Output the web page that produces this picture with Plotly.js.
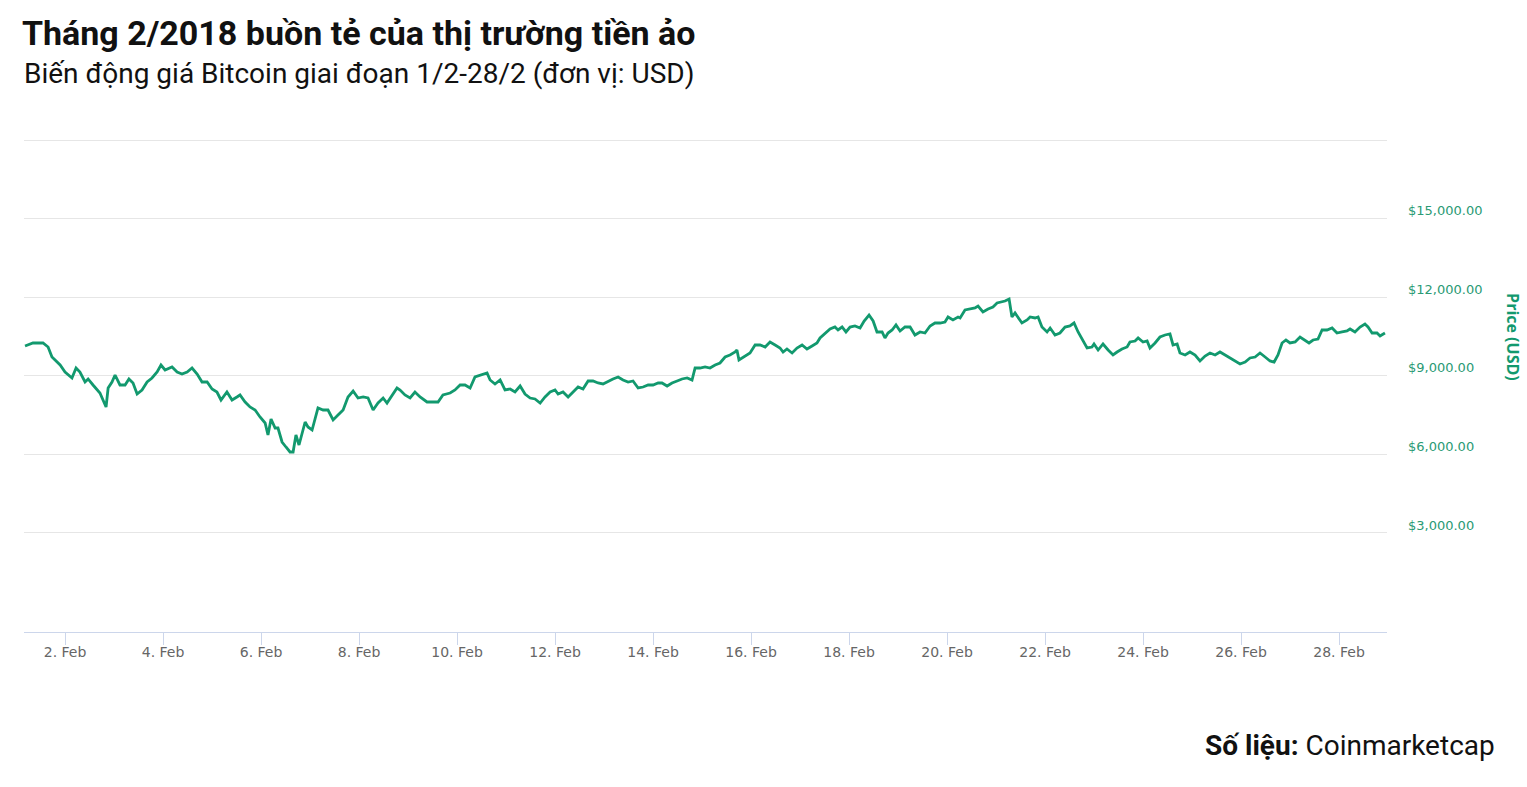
<!DOCTYPE html>
<html>
<head>
<meta charset="utf-8">
<script src="https://cdn.plot.ly/plotly-3.0.1.min.js"></script>
<style>
  html, body { margin: 0; padding: 0; background: #fff; }
  #chart { width: 1527px; height: 787px; }
</style>
</head>
<body>
<div id="chart"></div>
<script>
// hours since 1 Feb 2018 00:00
var hours = [
  4.4, 8.3, 13.2, 15.7, 17.6, 19.1, 21.6, 24.0, 27.4, 29.4,
  31.3, 33.8, 35.3, 37.7, 41.1, 44.1, 45.1, 47.0, 48.5, 50.9,
  53.4, 55.3, 57.3, 59.3, 61.7, 64.2, 66.6, 69.1, 71.0, 73.0,
  76.4, 78.9, 81.3, 83.8, 86.2, 88.7, 91.1, 93.6, 96.0, 98.4,
  100.4, 103.3, 105.8, 108.2, 109.7, 112.2, 114.6, 117.1, 119.5, 122.0,
  123.4, 124.9, 126.9, 128.3, 130.3, 132.2, 134.2, 135.7, 137.1, 138.6,
  141.6, 143.0, 145.0, 147.9, 150.4, 152.8, 155.3, 157.7, 160.2, 162.6,
  165.1, 167.5, 170.0, 172.4, 174.9, 177.3, 179.8, 181.7, 184.2, 186.6,
  188.1, 190.5, 193.0, 195.4, 197.9, 201.3, 204.2, 206.7, 209.1, 212.6,
  215.0, 217.5, 219.9, 222.4, 224.8, 228.2, 230.7,
  232.2, 234.6, 237.1, 239.5, 242.0, 244.4, 246.9, 249.3, 251.8, 254.2,
  256.7, 259.1, 261.6, 264.0, 265.5, 267.9, 270.4, 272.8, 275.3, 277.7,
  280.2, 282.6, 285.1, 287.5, 290.0, 292.4, 294.9, 297.3, 299.8, 302.2,
  304.7, 307.1, 309.6, 312.0, 314.5, 316.4, 318.9, 321.3, 323.8, 326.2,
  328.7, 331.1, 332.6, 335.0, 337.5, 339.9, 342.4,
  344.8, 347.3, 349.7, 352.2, 353.1, 354.1, 357.1, 359.5, 362.0, 364.4,
  366.9, 369.3, 371.8, 374.2, 375.7, 377.6, 380.1, 382.5, 385.0, 387.4,
  389.9, 392.3, 393.8, 396.3, 398.7, 401.1, 402.6, 404.6, 406.5, 408.5,
  410.9, 413.4, 415.4, 417.8, 419.8, 421.7, 424.2, 425.6, 427.1, 429.1,
  431.0, 433.0, 435.4, 437.9, 440.3, 442.8, 445.2, 447.7, 450.1, 452.6,
  455.0, 456.5, 458.9, 461.4,
  462.4, 464.8, 467.3, 469.7, 471.2, 473.6, 476.1, 478.5, 480.5, 482.9,
  484.4, 486.4, 487.8, 489.3, 490.8, 492.7, 495.2, 496.7, 499.1, 500.6,
  502.5, 505.0, 506.5, 508.9, 511.3, 513.8, 516.2, 518.2, 520.2, 522.6,
  524.6, 527.0, 528.0, 530.0, 532.4, 534.9, 537.3, 539.3, 541.7, 544.2,
  545.6, 548.1, 549.6, 552.0, 554.0, 555.4, 557.9, 560.3, 562.8, 565.2,
  566.7, 568.7,
  570.1, 572.6, 575.0, 577.5, 579.9, 582.4, 584.8, 587.3, 589.7, 592.2,
  594.6, 597.1, 599.5, 602.0, 604.4, 606.9, 609.3, 611.8, 614.2, 616.2,
  618.1, 620.1, 622.0, 624.0, 626.5, 628.9, 631.4, 633.3, 635.3, 637.7,
  639.7, 642.1, 644.6, 647.0, 649.5, 651.9, 653.4, 655.8, 658.3, 660.7,
  662.2, 664.2, 666.6, 668.1, 670.5
];

// BTC price, USD
var price = [
  10137, 10252, 10252, 10099, 9717, 9603, 9412, 9145, 8916, 9297,
  9145, 8763, 8878, 8649, 8343, 7809, 8534, 8763, 9030, 8649,
  8649, 8878, 8725, 8305, 8458, 8763, 8916, 9145, 9412, 9221,
  9336, 9145, 9068, 9145, 9297, 9068, 8763, 8763, 8496, 8381,
  8076, 8381, 8076, 8191, 8267, 8000, 7809, 7694, 7427, 7198,
  6740, 7351, 7007, 7007, 6473, 6282, 6091, 6091, 6740, 6358,
  7236, 7045, 6931, 7771, 7694, 7694, 7313, 7503, 7694, 8191,
  8420, 8152, 8191, 8152, 7694, 7961, 8152, 7961, 8267, 8534,
  8458, 8267, 8152, 8381, 8191, 8000, 8000, 8000, 8267, 8343,
  8458, 8649, 8649, 8534, 8954, 9030, 9107,
  8839, 8687, 8839, 8458, 8496, 8381, 8610, 8305, 8152, 8114,
  7961, 8191, 8381, 8458, 8305, 8381, 8191, 8381, 8572, 8496,
  8801, 8801, 8725, 8687, 8801, 8878, 8954, 8839, 8763, 8801,
  8534, 8572, 8649, 8649, 8725, 8725, 8610, 8725, 8801, 8878,
  8916, 8839, 9297, 9297, 9336, 9297, 9412,
  9488, 9717, 9794, 9908, 9984, 9603, 9755, 9870, 10175, 10175,
  10099, 10290, 10175, 10061, 9908, 10023, 9870, 10061, 10175, 10023,
  10137, 10252, 10443, 10633, 10786, 10862, 10748, 10862, 10672, 10862,
  10901, 10824, 11091, 11320, 11091, 10672, 10672, 10443, 10633, 10748,
  10939, 10710, 10862, 10862, 10557, 10672, 10633, 10901, 11015, 11015,
  11053, 11244, 11130, 11244,
  11206, 11511, 11549, 11588, 11664, 11435, 11549, 11626, 11778, 11817,
  11855, 11931, 11244, 11397, 11244, 11015, 11130, 11244, 11206, 11244,
  10862, 10672, 10824, 10557, 10633, 10862, 10901, 11015, 10672, 10366,
  10061, 10099, 10214, 9984, 10214, 9984, 9794, 9908, 10023, 10099,
  10290, 10328, 10443, 10290, 10328, 10061, 10252, 10481, 10557, 10595,
  10175, 10214,
  9870, 9794, 9908, 9794, 9565, 9755, 9870, 9794, 9908, 9794,
  9679, 9565, 9450, 9526, 9679, 9717, 9870, 9717, 9565, 9526,
  9794, 10252, 10366, 10252, 10290, 10481, 10366, 10252, 10366, 10404,
  10748, 10748, 10824, 10633, 10672, 10710, 10786, 10672, 10862, 10977,
  10862, 10633, 10633, 10519, 10633
];

var yTicks = [3000, 6000, 9000, 12000, 15000, 18000];
var yTickLabels = ['$3,000.00', '$6,000.00', '$9,000.00', '$12,000.00', '$15,000.00', ''];

var t0 = Date.UTC(2018, 1, 1);
var times = hours.map(function(h) { return t0 + h * 3600000; });

var green = '#12996e';
var headFont = 'Roboto, "Noto Sans", sans-serif';
var axisFont = '"DejaVu Sans", Verdana, sans-serif';

var trace = {
  x: times,
  y: price,
  type: 'scatter',
  mode: 'lines',
  line: {color: green, width: 2.8},
  hoverinfo: 'x+y'
};

// plot area top at 130px, so the 18,000 gridline sits at 140px
var layout = {
  width: 1527,
  height: 787,
  margin: {l: 24, r: 140, t: 130, b: 155},
  paper_bgcolor: '#fff',
  plot_bgcolor: '#fff',
  showlegend: false,
  title: {
    text: '<b>Tháng 2/2018 buồn tẻ của thị trường tiền ảo</b>',
    font: {family: headFont, size: 34, color: '#111'},
    xref: 'container', yref: 'container',
    x: 0.0144, xanchor: 'left',
    y: 0.958, yanchor: 'middle'
  },
  xaxis: {
    type: 'date',
    range: [t0 + 3.9 * 3600000, t0 + 671.5 * 3600000],
    tick0: '2018-02-02',
    dtick: 2 * 86400000,
    tickformat: '%-d. %b',
    showgrid: false,
    showline: true,
    linecolor: '#ccd6eb',
    linewidth: 1,
    ticks: 'outside',
    ticklen: 12,
    tickcolor: '#ccd6eb',
    ticklabelstandoff: -5,
    tickfont: {family: axisFont, size: 14, color: '#666'},
    zeroline: false,
    fixedrange: true
  },
  yaxis: {
    side: 'right',
    range: [-780, 18382],
    tickvals: yTicks,
    ticktext: yTickLabels,
    showgrid: true,
    gridcolor: '#e6e6e6',
    gridwidth: 1,
    zeroline: false,
    showline: false,
    ticks: '',
    ticklabelshift: -8,
    ticklabelstandoff: 20,
    tickfont: {family: axisFont, size: 13, color: '#2a9a74'},
    fixedrange: true
  },
  annotations: [
    {
      text: 'Biến động giá Bitcoin giai đoạn 1/2-28/2 (đơn vị: USD)',
      xref: 'paper', yref: 'paper',
      x: -0.0015, xanchor: 'left',
      y: 1.1135, yanchor: 'middle',
      showarrow: false,
      font: {family: headFont, size: 28, color: '#111'}
    },
    {
      text: 'Price (USD)',
      xref: 'paper', yref: 'paper',
      x: 1.0924, xanchor: 'center',
      y: 0.5876, yanchor: 'middle',
      textangle: 90,
      showarrow: false,
      font: {family: '"Open Sans", sans-serif', size: 16, color: green, weight: 'bold'}
    },
    {
      text: '<b>Số liệu:</b> Coinmarketcap',
      xref: 'paper', yref: 'paper',
      x: 1.0807, xanchor: 'right',
      y: -0.2251, yanchor: 'middle',
      showarrow: false,
      font: {family: headFont, size: 28, color: '#111'}
    }
  ]
};

Plotly.newPlot('chart', [trace], layout, {displayModeBar: false, staticPlot: true});
</script>
</body>
</html>
